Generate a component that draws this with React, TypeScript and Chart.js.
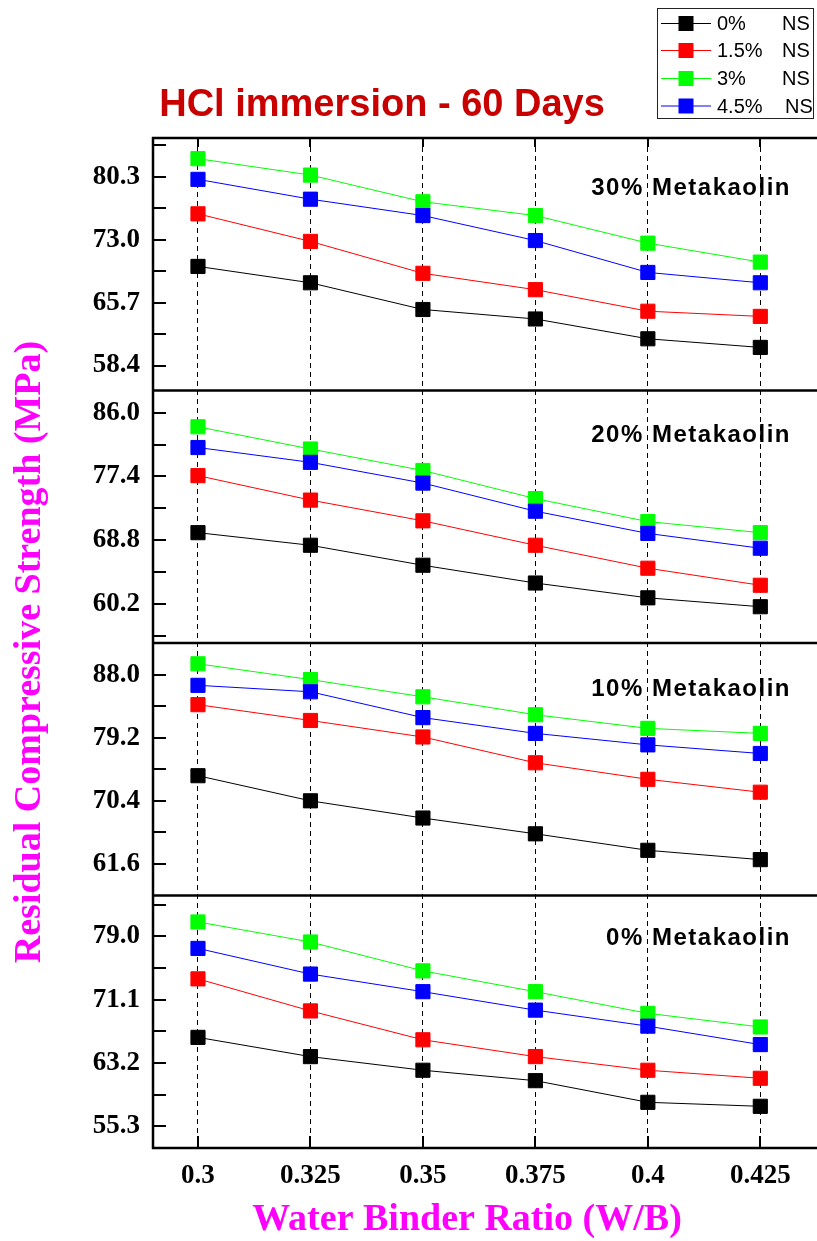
import React, { useEffect, useRef } from 'react';
import { Chart, registerables } from 'chart.js';

Chart.register(...registerables);

// ---------- data ----------
const xValues = [0.3, 0.325, 0.35, 0.375, 0.4, 0.425];
const xTickLabels = ['0.3', '0.325', '0.35', '0.375', '0.4', '0.425'];

const nsPercent = ['0%', '1.5%', '3%', '4.5%'];
const seriesColors = ['#000000', '#ff0000', '#00ff00', '#0000ff'];

const panelTitles = ['30% Metakaolin', '20% Metakaolin', '10% Metakaolin', '0% Metakaolin'];

// 30% Metakaolin
const mk30_ns0 = [69.9, 68.0, 64.9, 63.8, 61.5, 60.5];
const mk30_ns15 = [76.0, 72.8, 69.1, 67.2, 64.7, 64.1];
const mk30_ns3 = [82.4, 80.5, 77.4, 75.8, 72.6, 70.4];
const mk30_ns45 = [80.0, 77.7, 75.8, 72.9, 69.2, 68.0];

// 20% Metakaolin
const mk20_ns0 = [69.8, 68.1, 65.4, 63.0, 61.0, 59.8];
const mk20_ns15 = [77.5, 74.2, 71.4, 68.1, 65.0, 62.7];
const mk20_ns3 = [84.1, 81.1, 78.2, 74.4, 71.3, 69.8];
const mk20_ns45 = [81.3, 79.3, 76.5, 72.7, 69.7, 67.7];

// 10% Metakaolin
const mk10_ns0 = [73.9, 70.4, 68.0, 65.8, 63.5, 62.2];
const mk10_ns15 = [83.8, 81.6, 79.3, 75.7, 73.4, 71.6];
const mk10_ns3 = [89.5, 87.3, 84.9, 82.4, 80.5, 79.8];
const mk10_ns45 = [86.5, 85.6, 82.0, 79.8, 78.2, 77.0];

// 0% Metakaolin
const mk0_ns0 = [66.4, 64.0, 62.3, 61.0, 58.3, 57.8];
const mk0_ns15 = [73.7, 69.7, 66.1, 64.0, 62.3, 61.3];
const mk0_ns3 = [80.8, 78.3, 74.7, 72.1, 69.4, 67.7];
const mk0_ns45 = [77.5, 74.3, 72.1, 69.8, 67.8, 65.5];

const panelSeries = [
  [mk30_ns0, mk30_ns15, mk30_ns3, mk30_ns45],
  [mk20_ns0, mk20_ns15, mk20_ns3, mk20_ns45],
  [mk10_ns0, mk10_ns15, mk10_ns3, mk10_ns45],
  [mk0_ns0, mk0_ns15, mk0_ns3, mk0_ns45],
];

// axis ranges and labelled ticks per panel (top to bottom)
const panelMin = [55.5, 54.9, 57.2, 52.6];
const panelMax = [84.8, 89.0, 92.4, 84.1];
const panelMajorTicks = [
  [58.4, 65.7, 73.0, 80.3],
  [60.2, 68.8, 77.4, 86.0],
  [61.6, 70.4, 79.2, 88.0],
  [55.3, 63.2, 71.1, 79.0],
];

// ---------- layout constants ----------
const W = 817;
const H = 1241;
const AREA_TOP = 138;
const AXIS_W = 153;
const XAXIS_H = 93;
const panelLabelOffset = [57, 51, 53, 49];
const panelIds = ['p0', 'p1', 'p2', 'p3'];

const serif = '"Liberation Serif", "Times New Roman", serif';
const sans = '"Liberation Sans", Arial, sans-serif';

function tickList(i: number) {
  const majors = panelMajorTicks[i];
  const step = majors[1] - majors[0];
  const out: number[] = [];
  for (let k = -1; k <= majors.length; k++) {
    const m = majors[0] + k * step;
    [m, m + step / 2].forEach((v) => {
      if (v > panelMin[i] + 0.05 && v < panelMax[i] - 0.05) out.push(+v.toFixed(3));
    });
  }
  return out.sort((a, b) => a - b);
}

const decorPlugin = {
  id: 'decor',
  afterDraw(chart: any) {
    const ctx = chart.ctx as CanvasRenderingContext2D;
    const area = chart.chartArea;
    const xs = chart.scales.x;
    ctx.save();

    // panel frame, ticks and labels
    panelIds.forEach((id, i) => {
      const s = chart.scales[id];
      ctx.strokeStyle = '#000';
      ctx.lineWidth = 2;
      s.ticks.forEach((t: any) => {
        const py = Math.round(s.getPixelForValue(t.value));
        ctx.beginPath();
        ctx.moveTo(area.left, py);
        ctx.lineTo(area.left + 13, py);
        ctx.stroke();
      });
      // separator / top line
      ctx.lineWidth = 2.5;
      ctx.beginPath();
      ctx.moveTo(area.left - 1, s.top);
      ctx.lineTo(area.right, s.top);
      ctx.stroke();

      ctx.fillStyle = '#000';
      ctx.font = `bold 24px ${sans}`;
      (ctx as any).letterSpacing = '1.5px';
      ctx.textAlign = 'right';
      ctx.textBaseline = 'alphabetic';
      ctx.fillText(panelTitles[i], 791, s.top + panelLabelOffset[i]);
      (ctx as any).letterSpacing = '0px';
    });

    // bottom & left frame
    ctx.lineWidth = 2.5;
    ctx.strokeStyle = '#000';
    ctx.beginPath();
    ctx.moveTo(area.left - 1, area.bottom);
    ctx.lineTo(area.right, area.bottom);
    ctx.stroke();
    ctx.beginPath();
    ctx.moveTo(area.left, area.top - 1);
    ctx.lineTo(area.left, area.bottom + 1);
    ctx.stroke();

    // x ticks inward (bottom and top)
    ctx.lineWidth = 2;
    xs.ticks.forEach((t: any) => {
      const px = Math.round(xs.getPixelForValue(t.value));
      ctx.beginPath();
      ctx.moveTo(px, area.bottom);
      ctx.lineTo(px, area.bottom - 12);
      ctx.moveTo(px, area.top);
      ctx.lineTo(px, area.top + 9);
      ctx.stroke();
    });

    // chart title
    ctx.fillStyle = '#c80000';
    ctx.font = `bold 38px ${sans}`;
    ctx.textAlign = 'center';
    ctx.textBaseline = 'alphabetic';
    ctx.fillText('HCl immersion - 60 Days', 382, 116);

    // axis titles
    ctx.fillStyle = '#ff00ff';
    ctx.font = `bold 38px ${serif}`;
    ctx.fillText('Water Binder Ratio (W/B)', 467, 1230);
    ctx.save();
    ctx.translate(40, 652);
    ctx.rotate(-Math.PI / 2);
    ctx.fillText('Residual Compressive Strength (MPa)', 0, 0);
    ctx.restore();

    // legend
    ctx.lineWidth = 1;
    ctx.strokeStyle = '#222';
    ctx.strokeRect(657.5, 8.5, 156, 110);
    const rowY = [23.5, 50.5, 78.5, 106];
    nsPercent.forEach((p, i) => {
      const y = rowY[i];
      ctx.strokeStyle = seriesColors[i];
      ctx.lineWidth = 1;
      ctx.beginPath();
      ctx.moveTo(661, y);
      ctx.lineTo(711, y);
      ctx.stroke();
      ctx.fillStyle = seriesColors[i];
      ctx.fillRect(678.5, y - 7.5, 15, 15);
      ctx.fillStyle = '#000';
      ctx.font = `20px ${sans}`;
      ctx.textAlign = 'left';
      ctx.textBaseline = 'middle';
      ctx.fillText(p, 717, y + 1);
      ctx.fillText('NS', i === 3 ? 785 : 782, y + 1);
    });

    ctx.restore();
  },
};

export default function App() {
  const ref = useRef<HTMLCanvasElement | null>(null);

  useEffect(() => {
    if (!ref.current) return;
    const datasets: any[] = [];
    panelSeries.forEach((series, pi) => {
      series.forEach((vals, si) => {
        datasets.push({
          label: `${nsPercent[si]} NS`,
          data: vals.map((v, k) => ({ x: xValues[k], y: v })),
          yAxisID: panelIds[pi],
          xAxisID: 'x',
          borderColor: seriesColors[si],
          backgroundColor: seriesColors[si],
          borderWidth: 1,
          pointStyle: 'rect',
          pointRadius: 10,
          pointBorderWidth: 1,
          pointBorderColor: seriesColors[si],
          pointBackgroundColor: seriesColors[si],
          order: 4 - si,
          tension: 0,
        });
      });
    });

    const scales: any = {
      x: {
        type: 'linear',
        position: 'bottom',
        min: 0.29,
        max: 0.4376,
        afterBuildTicks: (s: any) => {
          s.ticks = xValues.map((v) => ({ value: v }));
        },
        afterFit: (s: any) => {
          s.height = XAXIS_H;
          s.paddingLeft = 0;
          s.paddingRight = 0;
        },
        ticks: {
          autoSkip: false,
          maxRotation: 0,
          padding: 12,
          color: '#000',
          font: { family: serif, size: 27, weight: 'bold' },
          callback: (_v: any, i: number) => xTickLabels[i],
        },
        grid: { display: true, drawOnChartArea: true, drawTicks: false, color: '#000', lineWidth: 1 },
        border: { display: false, dash: [5, 4] },
      },
    };
    panelIds.forEach((id, i) => {
      const majors = panelMajorTicks[i];
      scales[id] = {
        type: 'linear',
        position: 'left',
        stack: 'panels',
        stackWeight: 1,
        weight: 4 - i,
        min: panelMin[i],
        max: panelMax[i],
        afterBuildTicks: (s: any) => {
          s.ticks = tickList(i).map((v) => ({ value: v }));
        },
        afterFit: (s: any) => {
          s.width = AXIS_W;
          s.paddingTop = 0;
          s.paddingBottom = 0;
        },
        ticks: {
          autoSkip: false,
          padding: 13,
          color: '#000',
          font: { family: serif, size: 27, weight: 'bold' },
          callback: (v: number) => (majors.some((m) => Math.abs(m - v) < 1e-6) ? v.toFixed(1) : ''),
        },
        grid: { display: false, drawTicks: false },
        border: { display: false },
      };
    });

    const chart = new Chart(ref.current, {
      type: 'line',
      data: { datasets },
      options: {
        responsive: false,
        animation: false,
        devicePixelRatio: 1,
        layout: { autoPadding: false, padding: { top: AREA_TOP, left: 0, right: 0, bottom: 0 } },
        plugins: {
          legend: { display: false },
          title: { display: false },
          tooltip: { enabled: false },
        },
        scales,
      },
      plugins: [decorPlugin],
    });
    return () => chart.destroy();
  }, []);

  return (
    <div style={{ position: 'absolute', left: 0, top: 0, width: W, height: H, background: '#fff' }}>
      <canvas ref={ref} width={W} height={H} style={{ display: 'block', width: W, height: H }} />
    </div>
  );
}
